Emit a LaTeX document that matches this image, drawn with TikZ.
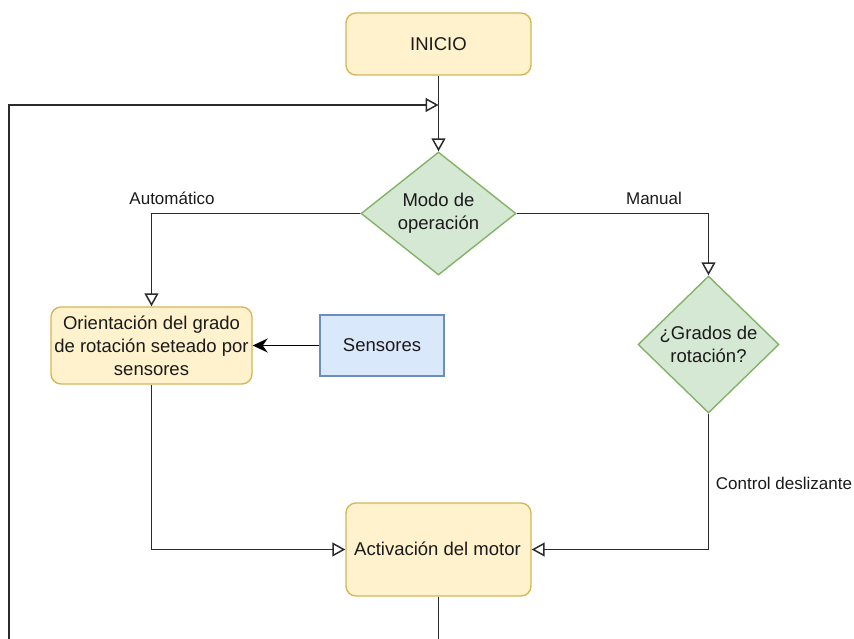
\documentclass[tikz,border=0pt]{standalone}
\usepackage{fontspec}
\setmainfont{Liberation Sans}
\usetikzlibrary{arrows.meta,shapes.geometric}

\definecolor{procfill}{HTML}{FFF2CC}
\definecolor{procline}{HTML}{D6B656}
\definecolor{decfill}{HTML}{D5E8D4}
\definecolor{decline}{HTML}{82B366}
\definecolor{infill}{HTML}{DAE8FC}
\definecolor{inline}{HTML}{6C8EBF}
\definecolor{wire}{HTML}{2B2B2B}
\definecolor{ink}{HTML}{1A1A1A}

\tikzset{
  nodefont/.style={font=\fontsize{18.5}{23}\selectfont, text=ink},
  procbox/.style={draw=procline, fill=procfill, line width=1.4pt, rounded corners=10pt,
    nodefont, align=center, inner sep=0pt},
  inbox/.style={draw=inline, fill=infill, line width=1.4pt, nodefont, align=center, inner sep=0pt},
  decbox/.style={diamond, draw=decline, fill=decfill, line width=1.4pt, inner sep=0pt},
  dectext/.style={nodefont, align=center, inner sep=0pt},
  flow/.style={draw=wire, line width=1.6pt, -{Triangle[open, length=13pt, width=14pt, line width=1.5pt]}},
  feed/.style={draw=black, line width=1.8pt, -{Stealth[length=15pt, width=14pt, inset=5pt]}},
  plain/.style={draw=wire, line width=1.6pt},
  edgelabel/.style={font=\fontsize{17}{20}\selectfont, text=ink, inner sep=0pt},
}

\begin{document}
\begin{tikzpicture}[x=1pt, y=-1pt]
  \useasboundingbox (0,0) rectangle (854,639);

  % process and decision blocks
  \node[procbox, minimum width=185pt, minimum height=62pt] (inicio) at (438.5,44) {INICIO};

  \node[decbox, minimum width=155pt, minimum height=123pt, shape aspect=1.26] (modo) at (438.5,213.5) {};
  \node[dectext] (modotxt) at (438.5,213) {Modo de\\operación};

  \node[procbox, minimum width=201pt, minimum height=77pt] (orient) at (151.5,345.5)
    {Orientación del grado\\de rotación seteado por\\sensores};

  \node[inbox, minimum width=124pt, minimum height=61pt] (sens) at (382,345.5) {Sensores};

  \node[decbox, minimum width=141pt, minimum height=137pt, shape aspect=1.03] (grados) at (708.5,344.5) {};
  \node[dectext] (gradostxt) at (708.5,344) {¿Grados de\\rotación?};

  \node[procbox, minimum width=185pt, minimum height=93pt] (motor) at (438.5,549.5) {};
  \node[nodefont, inner sep=0pt] (motortxt) at (437.5,549) {Activación del motor};

  % free ends of the return loop
  \coordinate (loopend) at (9,639);
  \coordinate (motorend) at (438.5,639);
  \coordinate (join) at (438.5,105);

  % connectors
  \draw[flow] (inicio.south) -- (modo.north);
  \draw[flow] (loopend) |- (join);
  \draw[plain] (motor.south) -- (motorend);

  \draw[flow] (modo.west) -| (orient.north);
  \draw[flow] (modo.east) -| (grados.north);
  \draw[feed] (sens.west) -- (orient.east);
  \draw[flow] (orient.south) |- (motor.west);
  \draw[flow] (grados.south) |- (motor.east);

  % connector labels
  \node[edgelabel] (lauto) at (172,198) {Automático};
  \node[edgelabel] (lman) at (654,198) {Manual};
  \node[edgelabel] (lctrl) at (784,483) {Control deslizante};
\end{tikzpicture}
\end{document}
